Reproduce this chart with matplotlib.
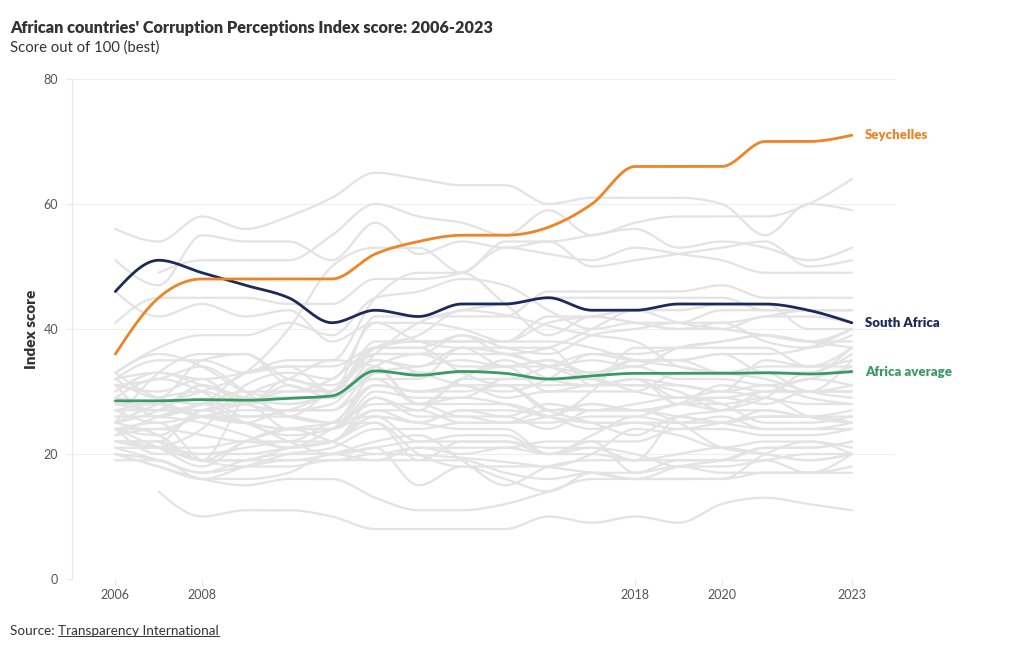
import numpy as np
import matplotlib
matplotlib.use("Agg")
import matplotlib.pyplot as plt

nan = np.nan

years = list(range(2006, 2024))
tick_years = [2006, 2008, 2018, 2020, 2023]

# highlighted series
seychelles = [36, 45, 48, 48, 48, 48, 52, 54, 55, 55, nan, 60, 66, 66, 66, 70, 70, 71]
south_africa = [46, 51, 49, 47, 45, 41, 43, 42, 44, 44, 45, 43, 43, 44, 44, 44, 43, 41]
africa_avg = [28.5, 28.5, 28.7, 28.6, 28.9, 29.3, 33.3, 32.6, 33.2, 32.9, 32.0, 32.5,
              32.9, 32.9, 32.9, 33.0, 32.8, 33.2]

# other countries (grey)
botswana = [56, 54, 58, 56, 58, 61, 65, 64, 63, 63, 60, 61, 61, 61, 60, 55, 60, 59]
cape_verde = [nan, 49, 51, 51, 51, 55, 60, 58, 57, 55, 59, 55, 57, 58, 58, 58, 60, 64]
rwanda = [25, 28, 30, 33, 40, 50, 53, 53, 49, 54, 54, 55, 56, 53, 54, 53, 51, 53]
mauritius = [51, 47, 55, 54, 54, 51, 57, 52, 54, 53, 54, 50, 51, 52, 53, 54, 50, 51]
namibia = [41, 45, 45, 45, 44, 44, 48, 48, 49, 53, 52, 51, 53, 52, 51, 49, 49, 49]
ghana = [33, 37, 39, 39, 41, 39, 45, 46, 48, 47, 43, 40, 41, 41, 43, 43, 43, 43]
senegal = [33, 36, 34, 30, 29, 29, 36, 41, 43, 44, 45, 45, 45, 45, 45, 43, 43, 43]
tunisia = [46, 42, 44, 42, 43, 38, 41, 41, 40, 38, 41, 42, 43, 43, 44, 44, 40, 40]
lesotho = [32, 33, 32, 33, 35, 35, 45, 49, 49, 44, 39, 42, 41, 40, 41, 38, 37, 39]
sao_tome = [29, 27, 27, 28, 30, 30, 42, 42, 42, 42, 46, 46, 46, 46, 47, 45, 45, 45]
morocco = [32, 35, 35, 33, 34, 34, 37, 37, 39, 36, 37, 40, 43, 41, 40, 39, 38, 38]
benin = [25, 27, 31, 29, 28, 30, 36, 36, 39, 37, 36, 39, 40, 41, 41, 42, 43, 43]
burkina_faso = [32, 29, 35, 36, 31, 30, 38, 38, 38, 38, 42, 42, 41, 40, 40, 42, 42, 41]
zambia = [26, 26, 28, 30, 30, 32, 37, 38, 38, 38, 38, 37, 35, 34, 33, 33, 33, 37]
ethiopia = [24, 24, 26, 27, 27, 27, 33, 33, 33, 34, 34, 35, 34, 37, 38, 39, 38, 37]
tanzania = [29, 32, 30, 26, 27, 30, 35, 33, 31, 30, 32, 36, 36, 37, 38, 39, 38, 40]
cote_divoire = [21, 21, 20, 21, 22, 22, 29, 27, 32, 32, 34, 36, 35, 35, 36, 36, 37, 40]
gambia = [25, 23, 19, 29, 32, 35, 34, 28, 29, 28, 26, 30, 37, 37, 37, 37, 34, 37]
egypt = [33, 29, 28, 28, 31, 29, 32, 32, 37, 36, 34, 32, 35, 35, 33, 33, 30, 35]
algeria = [31, 30, 32, 28, 29, 29, 34, 36, 36, 36, 34, 33, 35, 35, 36, 33, 33, 36]
eswatini = [25, 33, 36, 36, 32, 31, 37, 39, 43, nan, nan, 39, 38, 34, 33, 32, 30, 29]
malawi = [27, 27, 28, 33, 34, 30, 37, 37, 33, 31, 31, 31, 32, 31, 30, 35, 34, 34]
niger = [23, 26, 28, 29, 26, 25, 33, 34, 35, 34, 35, 33, 34, 32, 32, 31, 32, 34]
togo = [24, 23, 27, 28, 24, 24, 30, 29, 29, 32, 32, 32, 30, 29, 29, 30, 30, 31]
sierra_leone = [22, 21, 19, 22, 24, 25, 31, 30, 31, 29, 30, 30, 30, 33, 33, 34, 34, 35]
djibouti = [nan, 29, 30, 28, 32, 30, 36, 36, 34, 34, 30, 31, 31, 30, 27, 30, 30, 30]
gabon = [30, 33, 31, 29, 28, 30, 35, 34, 37, 34, 35, 32, 31, 31, 30, 31, 29, 28]
mali = [28, 27, 31, 28, 27, 28, 34, 28, 32, 35, 32, 31, 32, 29, 30, 29, 28, 28]
liberia = [nan, 21, 24, 31, 33, 32, 41, 38, 37, 37, 37, 31, 32, 28, 28, 29, 26, 25]
kenya = [22, 21, 21, 22, 21, 22, 27, 27, 25, 25, 26, 28, 27, 28, 31, 30, 32, 31]
mauritania = [31, 26, 28, 25, 23, 24, 31, 30, 30, 31, 27, 28, 27, 28, 29, 28, 30, 30]
angola = [22, 22, 19, 19, 19, 20, 22, 23, 19, 15, 18, 19, 19, 26, 27, 29, 33, 33]
uganda = [27, 28, 26, 25, 24, 24, 29, 26, 26, 25, 25, 26, 26, 28, 27, 27, 26, 26]
mozambique = [28, 28, 26, 25, 27, 27, 31, 30, 31, 31, 27, 25, 23, 26, 25, 26, 26, 25]
nigeria = [22, 22, 27, 25, 24, 24, 27, 25, 27, 26, 28, 27, 27, 26, 25, 24, 24, 25]
cameroon = [23, 24, 23, 22, 22, 25, 26, 25, 27, 27, 26, 25, 25, 25, 25, 27, 26, 27]
madagascar = [31, 32, 34, 30, 26, 30, 32, 28, 28, 28, 26, 24, 25, 24, 25, 26, 26, 25]
zimbabwe = [24, 21, 18, 22, 24, 22, 20, 21, 21, 21, 22, 22, 22, 24, 24, 23, 23, 24]
guinea = [19, 19, 16, 18, 20, 21, 24, 24, 25, 25, 27, 27, 28, 29, 28, 25, 25, 26]
comoros = [nan, 26, 25, 23, 21, 24, 28, 28, 26, 26, 24, 27, 27, 25, 21, 20, 19, 20]
car = [24, 20, 20, 20, 21, 22, 26, 25, 24, 24, 20, 23, 26, 25, 26, 24, 24, 24]
eritrea = [29, 28, 26, 26, 26, 25, 25, 20, 18, 18, 18, 20, 24, 23, 21, 22, 22, 21]
congo = [22, 21, 19, 19, 21, 22, 26, 22, 23, 23, 20, 21, 19, 19, 19, 21, 21, 22]
drc = [20, 19, 17, 19, 20, 20, 21, 22, 22, 22, 21, 21, 20, 18, 18, 19, 20, 20]
chad = [20, 18, 16, 16, 17, 20, 19, 19, 22, 22, 20, 20, 19, 20, 21, 20, 19, 20]
burundi = [24, 25, 19, 18, 18, 19, 19, 21, 20, 21, 20, 22, 17, 19, 19, 19, 17, 20]
guinea_bissau = [nan, 22, 19, 19, 21, 22, 25, 19, 19, 17, 16, 17, 16, 18, 19, 21, 21, 22]
eq_guinea = [21, 19, 17, 18, 19, 19, 20, nan, nan, nan, nan, 17, 16, 16, 16, 17, 17, 17]
libya = [27, 25, 26, 25, 22, 20, 21, 15, 18, 16, 14, 17, 17, 18, 17, 17, 17, 18]
sudan = [20, 18, 16, 15, 16, 16, 13, 11, 11, 12, 14, 16, 16, 16, 16, 20, 22, 20]
somalia = [nan, 14, 10, 11, 11, 10, 8, 8, 8, 8, 10, 9, 10, 9, 12, 13, 12, 11]

others = [botswana, cape_verde, rwanda, mauritius, namibia, ghana, senegal, tunisia,
          lesotho, sao_tome, morocco, benin, burkina_faso, zambia, ethiopia, tanzania,
          cote_divoire, gambia, egypt, algeria, eswatini, malawi, niger, togo,
          sierra_leone, djibouti, gabon, mali, liberia, kenya, mauritania, angola,
          uganda, mozambique, nigeria, cameroon, madagascar, zimbabwe, guinea, comoros,
          car, eritrea, congo, drc, chad, burundi, guinea_bissau, eq_guinea, libya,
          sudan, somalia]

ORANGE = "#ee8426"
NAVY = "#1b2a5a"
GREEN = "#3a9a63"
GREY = "#e3e3e3"


def monotone_curve(xs, ys, n=30):
    # d3.curveMonotoneX style drawing between the yearly points (gaps bridged)
    x = np.asarray(xs, float)
    y = np.asarray(ys, float)
    ok = ~np.isnan(y)
    x, y = x[ok], y[ok]
    if len(x) < 3:
        return x, y
    h = np.diff(x)
    s = np.diff(y) / h
    t = np.zeros(len(x))
    for i in range(1, len(x) - 1):
        p = (s[i - 1] * h[i] + s[i] * h[i - 1]) / (h[i - 1] + h[i])
        t[i] = (np.sign(s[i - 1]) + np.sign(s[i])) * min(abs(s[i - 1]), abs(s[i]), 0.5 * abs(p))
    t[0] = (3 * s[0] - t[1]) / 2
    t[-1] = (3 * s[-1] - t[-2]) / 2
    px, py = [], []
    for i in range(len(x) - 1):
        u = np.linspace(0, 1, n, endpoint=(i == len(x) - 2))
        h00 = 2 * u**3 - 3 * u**2 + 1
        h10 = u**3 - 2 * u**2 + u
        h01 = -2 * u**3 + 3 * u**2
        h11 = u**3 - u**2
        px.append(x[i] + u * h[i])
        py.append(h00 * y[i] + h10 * h[i] * t[i] + h01 * y[i + 1] + h11 * h[i] * t[i + 1])
    return np.concatenate(px), np.concatenate(py)


plt.rcParams['font.family'] = ['Lato', 'DejaVu Sans']

fig = plt.figure(figsize=(10.2, 6.5), dpi=100)
ax = fig.add_axes([0.0706, 0.1092, 0.807, 0.7693])

for series in others:
    cx, cy = monotone_curve(years, series)
    ax.plot(cx, cy, color=GREY, lw=1.6, solid_capstyle='round', zorder=2)

for series, col, name in [(africa_avg, GREEN, "Africa average"),
                          (south_africa, NAVY, "South Africa"),
                          (seychelles, ORANGE, "Seychelles")]:
    cx, cy = monotone_curve(years, series)
    ax.plot(cx, cy, color=col, lw=2.0, solid_capstyle='round', zorder=4)
    ax.annotate(name, (years[-1], series[-1]), xytext=(9.5, 0), textcoords='offset points',
                ha='left', va='center', color=col, fontsize=9.5, fontweight='heavy')

ax.set_xlim(2005, 2024)
ax.set_ylim(0, 80)
ax.set_yticks([0, 20, 40, 60, 80])
ax.set_xticks(tick_years)
ax.grid(axis='y', color='#eeeeee', lw=0.8, zorder=0)
for side in ['top', 'right', 'bottom']:
    ax.spines[side].set_visible(False)
ax.spines['left'].set_color('#e8e8e8')
ax.spines['left'].set_linewidth(0.8)
ax.tick_params(axis='y', length=4, color='#e8e8e8', labelsize=9, labelcolor='#555555', pad=6)
ax.tick_params(axis='x', length=5, color='#e8e8e8', labelsize=9, labelcolor='#555555', pad=2)
ax.set_ylabel("Index score", fontsize=11, fontweight='heavy', color='#333333', labelpad=4)

fig.text(0.0098, 0.957, "African countries' Corruption Perceptions Index score: 2006-2023",
         fontsize=11.7, fontweight='heavy', color='#333333', va='center')
fig.text(0.0098, 0.927, "Score out of 100 (best)", fontsize=10.7, color='#333333', va='center')
src = fig.text(0.0098, 0.029, "Source: ", fontsize=9.7, color='#333333', va='center')
fig.canvas.draw()
bb = src.get_window_extent()
fig.text(bb.x1 / fig.bbox.width, 0.029, "Transparency International", fontsize=9.7,
         color='#333333', va='center')
bb2 = fig.texts[-1].get_window_extent()
fig.add_artist(plt.Line2D([bb2.x0 / fig.bbox.width, bb2.x1 / fig.bbox.width],
                          [(bb2.y0 + 1) / fig.bbox.height] * 2, color='#333333', lw=0.7))

fig.savefig("out.png", dpi=100)
